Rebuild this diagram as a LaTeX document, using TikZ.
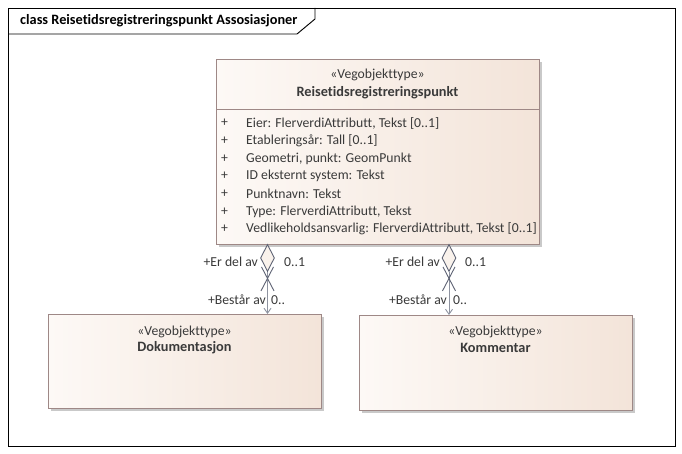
\documentclass[tikz,border=0pt]{standalone}
\usepackage{fontspec}
\setmainfont{Carlito}[Ligatures={NoCommon}]
\usetikzlibrary{shapes.geometric,arrows.meta,calc}
\definecolor{boxL}{HTML}{FDF9F6}
\definecolor{boxR}{HTML}{F3E4D9}
\definecolor{boxB}{HTML}{9E8886}
\definecolor{shad}{HTML}{C9C9C9}
\definecolor{txt}{HTML}{3A3A3A}
\definecolor{lnk}{HTML}{5E6374}
\definecolor{lnkl}{HTML}{8E93A0}
\tikzset{
  cls/.style={draw=boxB, line width=0.9pt, left color=boxL, right color=boxR, inner sep=0pt, anchor=north west},
  shd/.style={fill=shad, draw=none},
  lbl/.style={font=\fontsize{13.7}{16}\selectfont, text=txt, inner sep=0pt},
  bld/.style={font=\fontsize{14.3}{17}\selectfont\bfseries},
  dia/.style={diamond, draw=lnk, fill=boxR!50!white, line width=0.9pt, minimum width=14pt, minimum height=27pt, inner sep=0pt, anchor=north},
  conn/.style={draw=lnkl, line width=0.8pt},
  xline/.style={draw=lnk, line width=0.9pt},
  tip/.style={-{Straight Barb[length=5pt,width=7pt,line width=0.9pt]}}
}
\begin{document}
\begin{tikzpicture}[x=1pt,y=-1pt]
\useasboundingbox (0,0) rectangle (682,454);
\fill[white] (0,0) rectangle (682,454);
% frame
\draw[black, line width=0.9pt] (8,8) rectangle (675,446);
\draw[black, line width=0.9pt] (8,34) -- (297,34) -- (315,19) -- (315,8);
\node[lbl, bld, text=black, anchor=west] (title) at (20,21) {class Reisetidsregistreringspunkt Assosiasjoner};
% shadows
\fill[shd] (219,62) rectangle (542,247);
\fill[shd] (51,317) rectangle (324,411);
\fill[shd] (362,318) rectangle (635,413);
% main class
\node[cls, minimum width=323pt, minimum height=185pt] (main) at (216,59) {};
\draw[boxB, line width=0.9pt] (216,109) -- (539,109);
\node[lbl] (mster) at (377.5,75) {«Vegobjekttype»};
\node[lbl, bld] (mname) at (377.5,93) {Reisetidsregistreringspunkt};
\foreach \i/\t in {0/{Eier: FlerverdiAttributt, Tekst [0..1]},
                   1/{Etableringsår: Tall [0..1]},
                   2/{Geometri, punkt: GeomPunkt},
                   3/{ID eksternt system: Tekst},
                   4/{Punktnavn: Tekst},
                   5/{Type: FlerverdiAttributt, Tekst},
                   6/{Vedlikeholdsansvarlig: FlerverdiAttributt, Tekst [0..1]}} {
  \node[lbl, anchor=west] (p\i) at (221,123+17.7*\i) {+};
  \node[lbl, anchor=west] (a\i) at (246,123+17.7*\i) {\t};
}
% Dokumentasjon
\node[cls, minimum width=273pt, minimum height=94pt] (doc) at (48,314) {};
\node[lbl] (dster) at (184.5,332) {«Vegobjekttype»};
\node[lbl, bld] (dname) at (184.5,348) {Dokumentasjon};
% Kommentar
\node[cls, minimum width=273pt, minimum height=95pt] (kom) at (359,315) {};
\node[lbl] (kster) at (495.5,332) {«Vegobjekttype»};
\node[lbl, bld] (kname) at (495.5,348) {Kommentar};
% connector 1
\node[dia] (d1) at (267.5,244) {};
\coordinate (e1) at (267.5,314);
\draw[conn, tip] (d1.south) -- (e1);
\draw[xline] ($(d1.south)+(-6,-5)$) -- ($(d1.south)+(6.5,19)$);
\draw[xline] ($(d1.south)+(6,-5)$) -- ($(d1.south)+(-6.5,19)$);
\node[lbl, anchor=east] (l1a) at (258,262) {+Er del av};
\node[lbl, anchor=west] (l1b) at (284,262) {0..1};
\node[lbl, anchor=east] (l1c) at (266,300) {+Består av};
\node[lbl, anchor=west] (l1d) at (271,300) {0..};
% connector 2
\node[dia] (d2) at (449,244) {};
\coordinate (e2) at (449,315);
\draw[conn, tip] (d2.south) -- (e2);
\draw[xline] ($(d2.south)+(-6,-5)$) -- ($(d2.south)+(6.5,19)$);
\draw[xline] ($(d2.south)+(6,-5)$) -- ($(d2.south)+(-6.5,19)$);
\node[lbl, anchor=east] (l2a) at (440,262) {+Er del av};
\node[lbl, anchor=west] (l2b) at (465,262) {0..1};
\node[lbl, anchor=east] (l2c) at (447,300) {+Består av};
\node[lbl, anchor=west] (l2d) at (453,300) {0..};
\end{tikzpicture}
\end{document}
